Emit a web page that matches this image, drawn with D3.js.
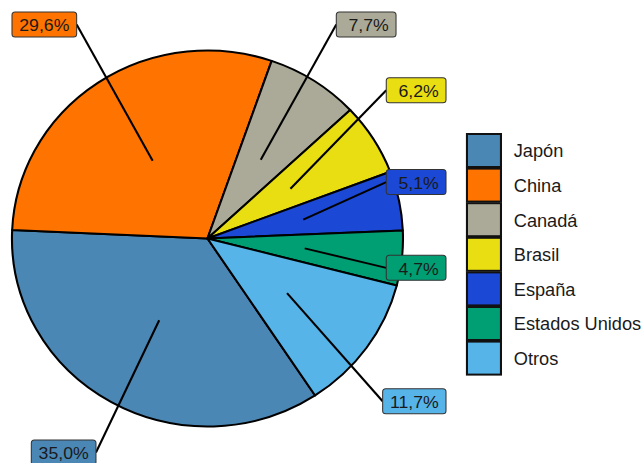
<!DOCTYPE html>
<html>
<head>
<meta charset="utf-8">
<script src="https://cdn.jsdelivr.net/npm/d3@7"></script>
<style>
  body { margin: 0; background: #fff; }
  text { font-family: "Liberation Sans", Arial, sans-serif; }
</style>
</head>
<body>
<script>
// data
var countries = ["Japón", "China", "Canadá", "Brasil", "España", "Estados Unidos", "Otros"];
var shares = [35.0, 29.6, 7.7, 6.2, 5.1, 4.7, 11.7];
var colors = ["#4B87B5", "#FF7300", "#ABAA98", "#E9DE11", "#1B48D5", "#009E73", "#56B4E9"];

var data = countries.map(function(c, i) { return { name: c, share: shares[i], color: colors[i] }; });

var width = 644, height = 463;
var sx = 1.04; // the original plot is slightly stretched horizontally

var svg = d3.select("body").append("svg")
  .attr("width", width)
  .attr("height", height);

var g = svg.append("g").attr("transform", "scale(" + sx + ",1)");

var cx = 199.5, cy = 238.5, r = 188;
var start = 146.6 * Math.PI / 180;

var pie = d3.pie().sort(null).value(function(d) { return d.share; })
  .startAngle(start).endAngle(start + 2 * Math.PI);
var arc = d3.arc().innerRadius(0).outerRadius(r);

var arcs = pie(data);

var pieG = g.append("g").attr("transform", "translate(" + cx + "," + cy + ")");
pieG.selectAll("path.slice")
  .data(arcs)
  .enter().append("path")
  .attr("class", "slice")
  .attr("d", arc)
  .attr("fill", function(d) { return d.data.color; })
  .attr("stroke", "#000")
  .attr("stroke-width", 2)
  .attr("stroke-linejoin", "round");

// labels
var fmt = function(v) { return (v.toFixed(1).replace(".", ",") + "%").padStart(5, " "); };
var R = 280, boxH = 25, pad = 7;
var maxX = 446 / sx, minX = 12 / sx, minY = 12 + boxH / 2, maxY = 452.5;

var labG = g.append("g");
arcs.forEach(function(a) {
  var mid = (a.startAngle + a.endAngle) / 2;
  var px = cx + r / 2 * Math.sin(mid), py = cy - r / 2 * Math.cos(mid);
  var lx = cx + R * Math.sin(mid), ly = cy - R * Math.cos(mid);

  var grp = labG.append("g");
  var seg = grp.append("line");
  var box = grp.append("rect");
  var txt = grp.append("text")
    .attr("xml:space", "preserve")
    .style("white-space", "pre")
    .attr("font-size", 17)
    .attr("fill", "#1a1a1a")
    .attr("text-anchor", "middle")
    .attr("dominant-baseline", "central")
    .text(fmt(a.data.share));

  var w = txt.node().getComputedTextLength() + 2 * pad;
  lx = Math.min(Math.max(lx, minX + w / 2), maxX - w / 2);
  ly = Math.min(Math.max(ly, minY), maxY);

  var ex = lx > px ? lx - w / 2 : lx + w / 2;
  seg.attr("x1", px).attr("y1", py).attr("x2", ex).attr("y2", ly)
    .attr("stroke", "#000").attr("stroke-width", 2);

  box.attr("x", lx - w / 2).attr("y", ly - boxH / 2)
    .attr("width", w).attr("height", boxH)
    .attr("rx", 3).attr("ry", 3)
    .attr("fill", a.data.color)
    .attr("stroke", "#333").attr("stroke-width", 1);

  txt.attr("x", lx).attr("y", ly + 1);
});

// legend
var legX = 449, legY = 134, keyW = 32.7, keyH = 33, step = 34.6;
var leg = g.append("g");
leg.selectAll("rect.key")
  .data(data)
  .enter().append("rect")
  .attr("class", "key")
  .attr("x", legX)
  .attr("y", function(d, i) { return legY + i * step; })
  .attr("width", keyW)
  .attr("height", keyH)
  .attr("fill", function(d) { return d.color; })
  .attr("stroke", "#111")
  .attr("stroke-width", 2);

leg.selectAll("text.lab")
  .data(data)
  .enter().append("text")
  .attr("class", "lab")
  .attr("x", 494)
  .attr("y", function(d, i) { return legY + i * step + keyH / 2 + 1; })
  .attr("dominant-baseline", "central")
  .attr("font-size", 17.5)
  .attr("fill", "#1a1a1a")
  .text(function(d) { return d.name; });
</script>
</body>
</html>
